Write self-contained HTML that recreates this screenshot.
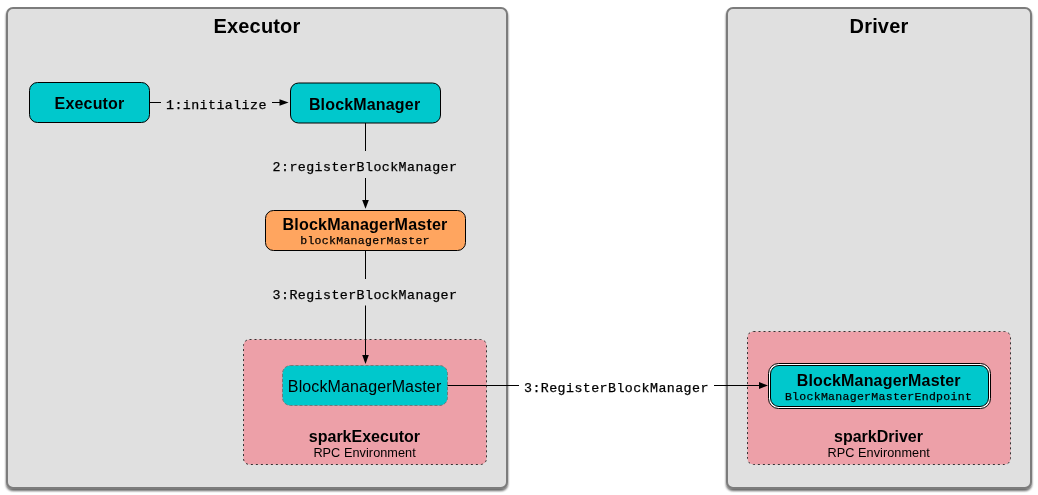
<!DOCTYPE html>
<html>
<head>
<meta charset="utf-8">
<style>
html,body{margin:0;padding:0;background:#fff;}
body{width:1038px;height:495px;overflow:hidden;}
svg{display:block;}
.b{font-family:"Liberation Sans",sans-serif;font-weight:bold;letter-spacing:0.17px;}
.r{font-family:"Liberation Sans",sans-serif;letter-spacing:0.13px;}
.m{font-family:"Liberation Mono",monospace;}
.m{stroke:#000;stroke-width:0.25px;}
.m14{font-size:13.3px;letter-spacing:0.42px;}
.m12{font-size:11.5px;letter-spacing:0.3px;}
svg{will-change:transform;}
</style>
</head>
<body>
<svg width="1038" height="495" viewBox="0 0 1038 495">
  <defs>
    <filter id="sh" x="-5%" y="-5%" width="110%" height="110%">
      <feGaussianBlur in="SourceAlpha" stdDeviation="0.8"/>
      <feOffset dx="0" dy="1.5" result="o"/>
      <feComponentTransfer><feFuncA type="linear" slope="0.6"/></feComponentTransfer>
      <feMerge><feMergeNode/><feMergeNode in="SourceGraphic"/></feMerge>
    </filter>
  </defs>

  <!-- Executor panel -->
  <rect x="7" y="8" width="500" height="480" rx="6" ry="6" fill="#e0e0e0" stroke="#7c7c7c" stroke-width="2" filter="url(#sh)"/>
  <text x="257" y="33" text-anchor="middle" class="b" font-size="20" fill="#000">Executor</text>

  <!-- Driver panel -->
  <rect x="727" y="8" width="304" height="480" rx="6" ry="6" fill="#e0e0e0" stroke="#7c7c7c" stroke-width="2" filter="url(#sh)"/>
  <text x="879" y="33" text-anchor="middle" class="b" font-size="20" fill="#000">Driver</text>

  <!-- Executor box -->
  <rect x="29.5" y="82.5" width="120" height="40" rx="8" ry="8" fill="#00c8cc" stroke="#000" stroke-width="1"/>
  <text x="89.5" y="109" text-anchor="middle" class="b" font-size="16">Executor</text>

  <!-- 1:initialize -->
  <line x1="149.5" y1="102.5" x2="161" y2="102.5" stroke="#000" stroke-width="1"/>
  <text x="166" y="108.8" class="m m14">1:initialize</text>
  <line x1="272" y1="102.5" x2="281" y2="102.5" stroke="#000" stroke-width="1"/>
  <path d="M279.5,99.2 L288.6,102.5 L279.5,105.8 Z" fill="#000"/>

  <!-- BlockManager box -->
  <rect x="290.5" y="83" width="150" height="40" rx="8" ry="8" fill="#00c8cc" stroke="#000" stroke-width="1"/>
  <text x="364.6" y="110" text-anchor="middle" class="b" font-size="16">BlockManager</text>

  <!-- 2:registerBlockManager -->
  <line x1="365.5" y1="123" x2="365.5" y2="151" stroke="#000" stroke-width="1"/>
  <text x="365" y="170.6" text-anchor="middle" class="m m14">2:registerBlockManager</text>
  <line x1="365.5" y1="178" x2="365.5" y2="202" stroke="#000" stroke-width="1"/>
  <path d="M362.2,200 L365.5,208.8 L368.8,200 Z" fill="#000"/>

  <!-- BlockManagerMaster orange -->
  <rect x="265.5" y="210.5" width="200" height="40" rx="8" ry="8" fill="#ffa55f" stroke="#000" stroke-width="1"/>
  <text x="365" y="229.7" text-anchor="middle" class="b" font-size="16.1">BlockManagerMaster</text>
  <text x="365" y="243.5" text-anchor="middle" class="m m12">blockManagerMaster</text>

  <!-- 3:RegisterBlockManager vertical -->
  <line x1="365.5" y1="250.5" x2="365.5" y2="279" stroke="#000" stroke-width="1"/>
  <text x="365" y="299.3" text-anchor="middle" class="m m14">3:RegisterBlockManager</text>

  <!-- sparkExecutor region -->
  <rect x="243.5" y="339.5" width="243" height="125" rx="6" ry="6" fill="#eda0a8" stroke="#333" stroke-width="1" stroke-dasharray="2 3"/>
  <line x1="365.5" y1="305.5" x2="365.5" y2="357" stroke="#000" stroke-width="1"/>
  <path d="M362.2,355 L365.5,364 L368.8,355 Z" fill="#000"/>

  <!-- BlockManagerMaster teal dashed -->
  <rect x="282.5" y="365.5" width="165" height="40" rx="8" ry="8" fill="#00c8cc" stroke="#777" stroke-width="1" stroke-dasharray="3 2"/>
  <text x="364.6" y="391.6" text-anchor="middle" class="r" font-size="16">BlockManagerMaster</text>
  <text x="364.4" y="441.6" text-anchor="middle" class="b" font-size="16" style="letter-spacing:0">sparkExecutor</text>
  <text x="364.6" y="456.6" text-anchor="middle" class="r" font-size="12.7" style="letter-spacing:0.06px">RPC Environment</text>

  <!-- sparkDriver region -->
  <rect x="747.5" y="331.5" width="263" height="133" rx="6" ry="6" fill="#eda0a8" stroke="#333" stroke-width="1" stroke-dasharray="2 3"/>

  <!-- BlockManagerMaster double box -->
  <rect x="768.5" y="363.5" width="222" height="45" rx="10" ry="10" fill="#fff" stroke="#000" stroke-width="1"/>
  <rect x="770.5" y="365.5" width="218" height="41" rx="8.5" ry="8.5" fill="#00c8cc" stroke="#000" stroke-width="1"/>
  <text x="878.7" y="385.5" text-anchor="middle" class="b" font-size="16">BlockManagerMaster</text>
  <text x="878.5" y="399.8" text-anchor="middle" class="m m12">BlockManagerMasterEndpoint</text>
  <text x="878.5" y="441.6" text-anchor="middle" class="b" font-size="16" style="letter-spacing:0">sparkDriver</text>
  <text x="878.7" y="456.8" text-anchor="middle" class="r" font-size="12.7" style="letter-spacing:0.06px">RPC Environment</text>

  <!-- cross arrow -->
  <line x1="447.5" y1="385.5" x2="519" y2="385.5" stroke="#000" stroke-width="1"/>
  <text x="524" y="391.7" class="m m14">3:RegisterBlockManager</text>
  <line x1="714" y1="385.5" x2="760" y2="385.5" stroke="#000" stroke-width="1"/>
  <path d="M759,382 L768,385.5 L759,389 Z" fill="#000"/>
</svg>
</body>
</html>
